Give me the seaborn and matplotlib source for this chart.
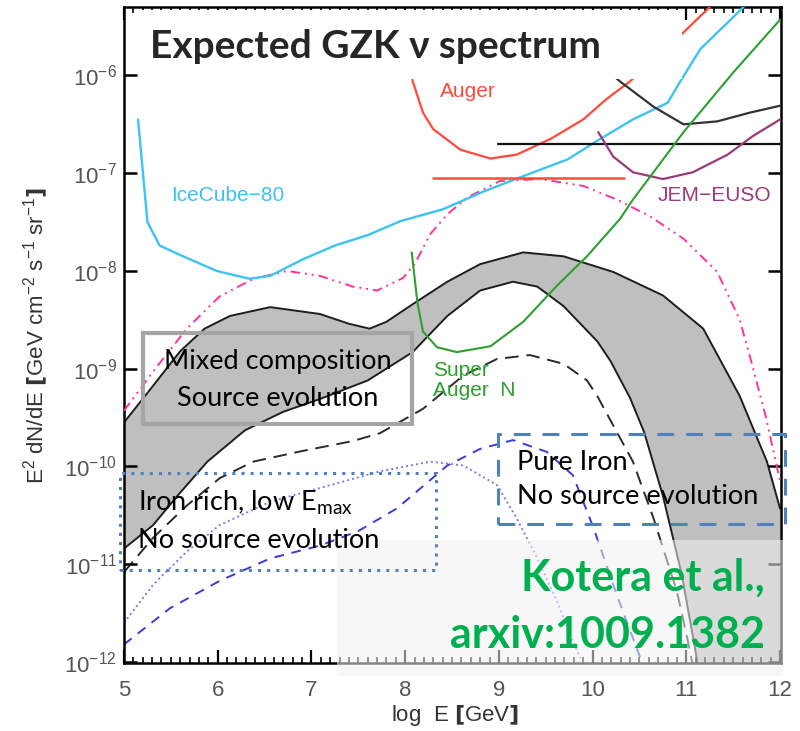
import numpy as np
import pandas as pd
import seaborn as sns
import matplotlib
matplotlib.use("Agg")
import matplotlib.pyplot as plt
from matplotlib.patches import Rectangle
from matplotlib.ticker import FixedLocator, MultipleLocator, NullLocator, LogFormatterMathtext

# ---------------- data (x = log10 E/GeV, values = log10 of E^2 dN/dE) ----------------
icecube_x = [5.15, 5.25, 5.38, 5.63, 5.99, 6.34, 6.56, 6.91, 7.25, 7.61, 7.95, 8.40, 8.83, 9.26,
             9.73, 10.08, 10.43, 10.80, 10.93, 11.15, 11.44, 11.61]
icecube_lg = [-6.45, -7.50, -7.74, -7.85, -8.00, -8.08, -8.05, -7.88, -7.74, -7.63, -7.49, -7.37,
              -7.19, -7.03, -6.86, -6.65, -6.45, -6.28, -6.07, -5.73, -5.46, -5.30]

auger_x = [8.05, 8.08, 8.19, 8.30, 8.59, 8.91, 9.19, 9.55, 9.90, 10.15, 10.40, 10.97, 11.25]
auger_lg = [-5.75, -6.06, -6.38, -6.55, -6.76, -6.85, -6.81, -6.65, -6.45, -6.24, -6.06, -5.56, -5.30]

auger_limit_x = [8.30, 10.33]
auger_limit_lg = [-7.05, -7.05]

upper_black_x = [10.10, 10.29, 10.65, 10.97, 11.33, 11.68, 12.0]
upper_black_lg = [-5.90, -6.06, -6.32, -6.50, -6.47, -6.38, -6.31]

black_limit_x = [8.99, 12.0]
black_limit_lg = [-6.70, -6.70]

jem_x = [10.06, 10.22, 10.43, 10.75, 11.07, 11.44, 11.71, 12.0]
jem_lg = [-6.58, -6.83, -6.99, -7.06, -6.99, -6.81, -6.62, -6.45]

superauger_x = [8.07, 8.13, 8.19, 8.34, 8.55, 8.91, 9.26, 9.62, 9.94, 10.29, 10.43, 10.97, 11.50, 12.0]
superauger_lg = [-7.81, -8.32, -8.62, -8.78, -8.83, -8.77, -8.52, -8.15, -7.85, -7.47, -7.27,
                 -6.58, -5.97, -5.43]

pink_x = [5.0, 5.31, 5.67, 6.02, 6.38, 6.74, 7.09, 7.44, 7.70, 7.98, 8.10, 8.27, 8.45, 8.66,
          9.01, 9.44, 9.90, 10.26, 10.61, 10.97, 11.33, 11.57, 11.70, 11.85, 12.0]
pink_lg = [-9.43, -9.03, -8.59, -8.26, -8.08, -8.00, -8.05, -8.16, -8.20, -8.07, -7.93, -7.62,
           -7.42, -7.25, -7.08, -7.06, -7.13, -7.27, -7.44, -7.67, -8.01, -8.50, -8.95, -9.50, -10.15]

band_up_x = [5.0, 5.33, 5.60, 5.86, 6.13, 6.56, 7.09, 7.40, 7.62, 7.80, 8.08, 8.45, 8.80, 9.26, 9.69,
             10.22, 10.75, 11.18, 11.57, 11.86, 12.0]
band_up_lg = [-9.55, -9.15, -8.82, -8.59, -8.46, -8.37, -8.44, -8.54, -8.59, -8.52, -8.34, -8.11, -7.93,
              -7.81, -7.85, -8.01, -8.25, -8.59, -9.28, -9.95, -10.43]

band_lo_x = [5.0, 5.31, 5.57, 5.89, 6.29, 6.70, 7.09, 7.60, 8.08, 8.45, 8.80, 9.15, 9.41, 9.69, 10.05,
             10.19, 10.40, 10.55, 10.75, 10.95, 11.10, 11.15]
band_lo_lg = [-10.84, -10.60, -10.30, -9.95, -9.63, -9.44, -9.31, -9.12, -8.83, -8.46, -8.20, -8.11,
              -8.16, -8.36, -8.72, -8.92, -9.30, -9.65, -10.30, -11.10, -11.90, -12.20]

dashed_x = [5.0, 5.31, 5.67, 6.02, 6.38, 6.91, 7.44, 7.73, 8.19, 8.62, 8.98, 9.33, 9.69, 9.94,
            10.05, 10.22, 10.43, 10.65, 10.90, 11.04, 11.08]
dashed_lg = [-11.08, -10.73, -10.40, -10.12, -9.95, -9.84, -9.74, -9.66, -9.41, -9.07, -8.90, -8.86,
             -8.95, -9.12, -9.28, -9.58, -9.95, -10.53, -11.28, -11.89, -12.10]

iron_rich_x = [5.0, 5.31, 5.67, 6.02, 6.56, 7.09, 7.73, 8.27, 8.62, 8.98, 9.19, 9.41, 9.62, 9.76, 9.87]
iron_rich_lg = [-11.60, -11.21, -10.87, -10.60, -10.36, -10.22, -10.05, -9.95, -9.99, -10.19,
                -10.53, -10.94, -11.38, -11.72, -11.96]

pure_iron_x = [5.0, 5.49, 6.02, 6.56, 7.09, 7.50, 7.91, 8.45, 8.80, 9.15, 9.51, 9.79, 10.01, 10.26, 10.51]
pure_iron_lg = [-11.82, -11.45, -11.17, -10.94, -10.81, -10.66, -10.43, -9.99, -9.82, -9.73, -9.85,
                -10.09, -10.63, -11.32, -11.96]

x_ticks = [5, 6, 7, 8, 9, 10, 11, 12]
y_decades = [-12, -11, -10, -9, -8, -7, -6]

# ---------------- style ----------------
sns.set_theme(style="ticks")
plt.rcParams["font.family"] = ["Liberation Sans", "DejaVu Sans"]
plt.rcParams["mathtext.default"] = "regular"
plt.rcParams["xtick.direction"] = "in"
plt.rcParams["ytick.direction"] = "in"
plt.rcParams["xtick.top"] = True
plt.rcParams["ytick.right"] = True

W, H = 800, 731
fig = plt.figure(figsize=(W / 100, H / 100), dpi=100)
ax = fig.add_axes([124 / W, 1 - 663 / H, (781 - 124) / W, (663 - 7) / H])
ax.set_yscale("log")
ax.set_xlim(5, 12.01)
ax.set_ylim(10 ** -12.01, 10 ** -5.30)
ax.set_axisbelow(False)


def fx(px):
    return px / W


def fy(py):
    return 1 - py / H


def line(xs, lg, color, lw=1.5, ls="-", z=3):
    df = pd.DataFrame({"logE": xs, "flux": 10 ** np.asarray(lg, dtype=float)})
    sns.lineplot(data=df, x="logE", y="flux", ax=ax, color=color, lw=lw, linestyle=ls,
                 sort=False, estimator=None, zorder=z)


# grey band (mixed composition, source evolution)
poly_x = np.concatenate([band_up_x, [12.0, 12.0, 11.15], band_lo_x[::-1]])
poly_lg = np.concatenate([band_up_lg, [-10.43, -12.5, -12.5], band_lo_lg[::-1]])
ax.fill(poly_x, 10 ** poly_lg, color="#bfbfbf", lw=0, zorder=1)
line(band_up_x, band_up_lg, "#1e1e1e", lw=1.4, z=2)
line(band_lo_x, band_lo_lg, "#1e1e1e", lw=1.4, z=2)
line(dashed_x, dashed_lg, "#2a2a2a", lw=1.4, ls=(0, (7, 4)), z=2)

line(iron_rich_x, iron_rich_lg, "#7a7aee", lw=1.4, ls=(0, (1, 1.6)), z=2)
line(pure_iron_x, pure_iron_lg, "#3a3ade", lw=1.4, ls=(0, (5, 4)), z=2)

line(pink_x, pink_lg, "#ff3399", lw=1.4, ls=(0, (5, 2.5, 1, 2.5, 1, 2.5)), z=3)
line(icecube_x, icecube_lg, "#3cc3f5", lw=1.7)
line(auger_x, auger_lg, "#ff4a3a", lw=1.6)
line(auger_limit_x, auger_limit_lg, "#ff4a3a", lw=1.8)
line(upper_black_x, upper_black_lg, "#333333", lw=1.6)
line(black_limit_x, black_limit_lg, "#111111", lw=1.6)
line(jem_x, jem_lg, "#9b3a78", lw=1.6)
line(superauger_x, superauger_lg, "#2ca02c", lw=1.5)

# curve labels
lab = dict(fontsize=15, va="center", ha="left")
ax.text(5.50, 10 ** -7.23, "IceCube\u221280", color="#3cc3f5", **lab)
ax.text(8.37, 10 ** -6.16, "Auger", color="#ff4a3a", **lab)
ax.text(10.69, 10 ** -7.23, "JEM\u2212EUSO", color="#9b3a78", **lab)
ax.text(8.30, 10 ** -9.02, "Super", color="#2ca02c", **lab)
ax.text(8.30, 10 ** -9.22, "Auger  N", color="#2ca02c", **lab)

# axes, ticks
ax.set_xlabel(r"log  E $\mathbf{[}$GeV$\mathbf{]}$", fontsize=16, color="#333333")
ax.xaxis.set_label_coords((455 - 124) / 657, (663 - 715) / 656)
ax.xaxis.label.set_va("center")
ax.set_ylabel(r"E$^2$ dN/dE $\mathbf{[}$GeV cm$^{-2}$ s$^{-1}$ sr$^{-1}$$\mathbf{]}$", fontsize=16,
              color="#333333")
ax.yaxis.set_label_coords((36 - 124) / 657, (663 - 335) / 656)
ax.yaxis.label.set_va("center")

ax.xaxis.set_major_locator(FixedLocator(x_ticks))
ax.xaxis.set_minor_locator(MultipleLocator(0.1))
ax.yaxis.set_major_locator(FixedLocator([10.0 ** d for d in y_decades]))
ax.yaxis.set_major_formatter(LogFormatterMathtext())
ax.yaxis.set_minor_locator(NullLocator())
ax.tick_params(axis="x", which="major", direction="in", top=True, bottom=True, length=9.5, width=1.6,
               color="black", labelsize=16, labelcolor="#555555", pad=12)
ax.tick_params(axis="x", which="minor", direction="in", top=True, bottom=True, length=4, width=1.2,
               color="black")
ax.tick_params(axis="y", which="major", direction="in", left=True, right=True, length=9.5, width=1.8,
               color="black", labelsize=16, labelcolor="#555555", pad=5)
for s in ax.spines.values():
    s.set_linewidth(1.8)
    s.set_color("black")
ax.set_facecolor("white")

# ---------------- slide-level annotations ----------------
# white box behind the title
fig.add_artist(Rectangle((fx(141), fy(79)), fx(682) - fx(141), fy(10) - fy(79),
                         transform=fig.transFigure, facecolor="white", edgecolor="none", zorder=5))
fig.text(fx(150), fy(47), "Expected GZK \u03bd spectrum", fontsize=28, fontweight="bold",
         family=["Lato", "DejaVu Sans"], va="center", ha="left", zorder=6)

# translucent overlay bottom right
fig.add_artist(Rectangle((fx(337), fy(676)), fx(783) - fx(337), fy(540) - fy(676),
                         transform=fig.transFigure, facecolor="#f2f2f2", alpha=0.55,
                         edgecolor="none", zorder=5))
kot = dict(fontsize=31, fontweight="bold", color="#00b050", family=["Lato", "DejaVu Sans"],
           ha="right", va="center", zorder=6)
fig.text(fx(765), fy(578), "Kotera et al.,", **kot)
fig.text(fx(765), fy(635), "arxiv:1009.1382", **kot)

# annotation boxes
fig.add_artist(Rectangle((fx(143), fy(424)), fx(412) - fx(143), fy(333) - fy(424),
                         transform=fig.transFigure, facecolor="none", edgecolor="#a5a5a5",
                         lw=3, zorder=5))
fig.add_artist(Rectangle((fx(120), fy(570)), fx(436) - fx(120), fy(473) - fy(570),
                         transform=fig.transFigure, facecolor="none", edgecolor="#4f81bd",
                         lw=2.2, linestyle=(0, (1, 2)), zorder=5))
fig.add_artist(Rectangle((fx(498), fy(524)), fx(785) - fx(498), fy(434) - fy(524),
                         transform=fig.transFigure, facecolor="none", edgecolor="#4f81bd",
                         lw=2.2, linestyle=(0, (5.5, 3.9)), zorder=5))

boxfont = dict(fontsize=19.5, family=["Lato", "DejaVu Sans"], color="black", zorder=6, va="center")
fig.text(fx(278), fy(362), "Mixed composition", ha="center", **boxfont)
fig.text(fx(278), fy(398), "Source evolution", ha="center", **boxfont)
fig.text(fx(138), fy(503), r"Iron rich, low E$_{max}$", ha="left", **boxfont)
fig.text(fx(138), fy(541), "No source evolution", ha="left", **boxfont)
fig.text(fx(517), fy(463), "Pure Iron", ha="left", **boxfont)
fig.text(fx(517), fy(497), "No source evolution", ha="left", **boxfont)

fig.savefig("out.png", dpi=100)
